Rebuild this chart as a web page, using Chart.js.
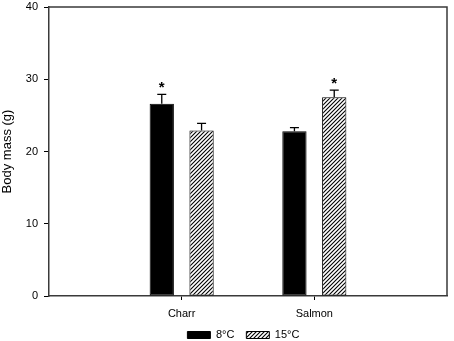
<!DOCTYPE html>
<html>
<head>
<meta charset="utf-8">
<script src="https://cdn.jsdelivr.net/npm/chart.js@4/dist/chart.umd.min.js"></script>
<style>
  html, body { margin: 0; padding: 0; background: #fff; }
  #wrap { width: 454px; height: 341px; }
</style>
</head>
<body>
<div id="wrap"><canvas id="massChart" width="454" height="341"></canvas></div>
<script>
const categories = ['Charr', 'Salmon'];
const seriesNames = ['8°C', '15°C'];
const mass8 = [26.6, 22.8];
const err8 = [1.3, 0.5];
const mass15 = [22.9, 27.5];
const err15 = [1.0, 1.0];
const sig8 = [true, false];
const sig15 = [false, true];
const yTicks = [0, 10, 20, 30, 40];

const FONT = '"Liberation Sans", Arial, sans-serif';

// empty slots either side so the two groups sit at 1/3 and 2/3 of the axis
const labels = ['', ...categories, ''];
const pad = arr => [null, ...arr, null];

function hatchPattern(ctx) {
    const c = document.createElement('canvas');
    c.width = 4; c.height = 4;
    const g = c.getContext('2d');
    g.fillStyle = '#fff';
    g.fillRect(0, 0, 4, 4);
    g.strokeStyle = '#000';
    g.lineWidth = 1.1;
    g.beginPath();
    g.moveTo(0, 4); g.lineTo(4, 0);
    g.moveTo(-1, 1); g.lineTo(1, -1);
    g.moveTo(3, 5); g.lineTo(5, 3);
    g.stroke();
    return ctx.createPattern(c, 'repeat');
}

// error bars (upper only), significance stars and the closed frame
const extras = {
    id: 'extras',
    afterDatasetsDraw(chart) {
        const ctx = chart.ctx;
        const y = chart.scales.y;
        const errs = [err8, err15];
        const sigs = [sig8, sig15];
        ctx.save();
        chart.data.datasets.forEach((ds, di) => {
            const meta = chart.getDatasetMeta(di);
            categories.forEach((cat, i) => {
                const bar = meta.data[i + 1];
                const v = ds.data[i + 1];
                const top = y.getPixelForValue(v + errs[di][i]);
                const base = y.getPixelForValue(v);
                ctx.strokeStyle = '#000';
                ctx.lineWidth = 1.3;
                ctx.beginPath();
                ctx.moveTo(bar.x, base);
                ctx.lineTo(bar.x, top);
                ctx.moveTo(bar.x - 4.5, top);
                ctx.lineTo(bar.x + 4.5, top);
                ctx.stroke();
                if (sigs[di][i]) {
                    ctx.fillStyle = '#000';
                    ctx.font = 'bold 15px ' + FONT;
                    ctx.textAlign = 'center';
                    ctx.textBaseline = 'alphabetic';
                    ctx.fillText('*', bar.x, top - 2.5);
                }
            });
        });
        const a = chart.chartArea;
        ctx.strokeStyle = '#3a3a3a';
        ctx.lineWidth = 1.5;
        ctx.beginPath();
        ctx.moveTo(a.left, a.top);
        ctx.lineTo(a.right, a.top);
        ctx.lineTo(a.right, a.bottom);
        ctx.stroke();
        ctx.restore();
    }
};

const canvas = document.getElementById('massChart');
const ctx = canvas.getContext('2d');

new Chart(ctx, {
    type: 'bar',
    data: {
        labels: labels,
        datasets: [
            {
                label: seriesNames[0],
                data: pad(mass8),
                backgroundColor: '#000',
                borderColor: '#000',
                borderWidth: 1,
                borderSkipped: false
            },
            {
                label: seriesNames[1],
                data: pad(mass15),
                backgroundColor: hatchPattern(ctx),
                borderColor: '#000',
                borderWidth: 1,
                borderSkipped: false
            }
        ]
    },
    options: {
        responsive: false,
        animation: false,
        devicePixelRatio: 1,
        layout: { padding: { top: 7, right: 3, left: 0, bottom: 0 } },
        datasets: { bar: { categoryPercentage: 0.6, barPercentage: 0.61 } },
        plugins: {
            tooltip: { enabled: false },
            legend: {
                position: 'bottom',
                fullSize: false,
                maxHeight: 23.5,
                labels: {
                    color: '#000',
                    font: { family: FONT, size: 11 },
                    boxWidth: 23,
                    boxHeight: 7,
                    padding: 12,
                    // trailing spaces nudge the centred legend a little to the left
                    generateLabels: chart => Chart.defaults.plugins.legend.labels.generateLabels(chart)
                        .map((l, i) => i === seriesNames.length - 1 ? { ...l, text: l.text + '   ' } : l)
                }
            }
        },
        scales: {
            x: {
                offset: false,
                grid: {
                    offset: false,
                    drawOnChartArea: false,
                    drawTicks: true,
                    tickLength: 4,
                    color: c => (c.index === 1 || c.index === 2) ? '#000' : 'rgba(0,0,0,0)'
                },
                border: { display: true, color: '#3a3a3a', width: 1.5 },
                ticks: {
                    color: '#000',
                    font: { family: FONT, size: 11 },
                    padding: 7,
                    maxRotation: 0,
                    autoSkip: false
                },
                afterFit: s => { s.height = 21.5; }
            },
            y: {
                min: 0,
                max: 40,
                afterBuildTicks: s => { s.ticks = yTicks.map(v => ({ value: v })); },
                grid: {
                    drawOnChartArea: false,
                    drawTicks: true,
                    tickLength: 5,
                    color: '#000'
                },
                border: { display: true, color: '#3a3a3a', width: 1.5 },
                ticks: {
                    color: '#000',
                    font: { family: FONT, size: 11 },
                    padding: 6
                },
                title: {
                    display: true,
                    text: 'Body mass (g)',
                    color: '#000',
                    font: { family: FONT, size: 13 },
                    padding: { top: 0, bottom: 0 }
                },
                afterFit: s => { s.width = 49; s.paddingTop = 0; }
            }
        }
    },
    plugins: [extras]
});
</script>
</body>
</html>
